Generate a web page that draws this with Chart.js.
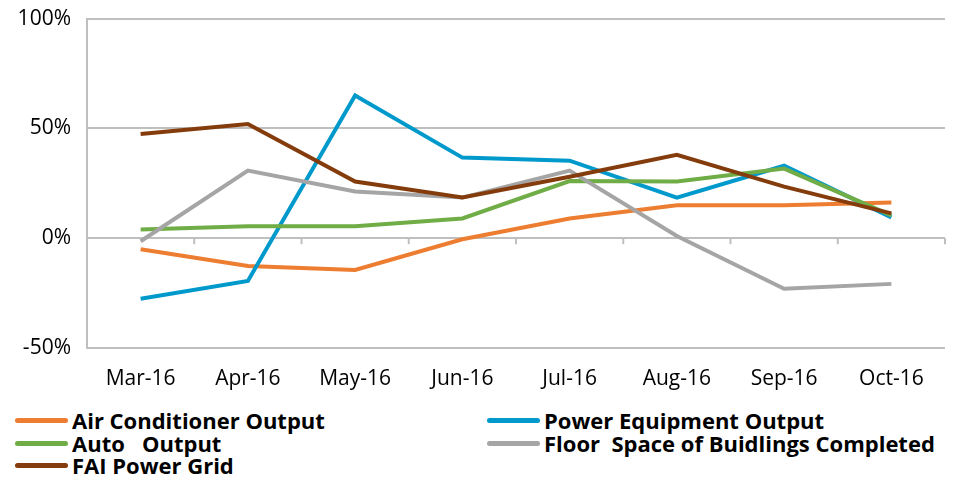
<!DOCTYPE html>
<html>
<head>
<meta charset="utf-8">
<script src="https://cdn.jsdelivr.net/npm/chart.js@4/dist/chart.umd.min.js"></script>
<style>
  html, body { margin: 0; padding: 0; background: #fff; overflow: hidden; }
  #wrap { position: relative; width: 955px; height: 481px; overflow: hidden; }
  #c { position: absolute; left: 0; top: -10px; }
  #legend { position: absolute; left: 0; top: 409px; width: 955px; font-family: "Open Sans", sans-serif; font-weight: bold; font-size: 22px; color: #000; }
  .item { position: absolute; height: 22px; line-height: 22px; white-space: pre; }
  .item span.sw { position: absolute; left: 0; top: 9px; width: 53px; height: 5px; border-radius: 3px; }
  .item span.tx { position: absolute; left: 57px; top: 0; }
</style>
</head>
<body>
<div id="wrap">
  <canvas id="c" width="955" height="410"></canvas>
  <div id="legend"></div>
</div>
<script>
var months = ["Mar-16", "Apr-16", "May-16", "Jun-16", "Jul-16", "Aug-16", "Sep-16", "Oct-16"];
var airConditioner = [-5, -12.7, -14.5, -0.5, 9, 15, 15, 16.3];
var powerEquipment = [-27.6, -19.5, 65, 36.7, 35.3, 18.5, 33, 9.5];
var autoOutput = [4, 5.4, 5.4, 9, 26, 25.8, 31.7, 10.4];
var floorSpace = [-1.4, 30.8, 21.3, 18.5, 30.8, 1, -23, -20.8];
var faiPowerGrid = [47.5, 52, 25.8, 18.5, 28, 38, 23.5, 11.3];
var yTicks = [-50, 0, 50, 100];

var series = [
  { label: "Air Conditioner Output", data: airConditioner, color: "#ED7D31", col: 0, row: 0 },
  { label: "Power Equipment Output", data: powerEquipment, color: "#0099CC", col: 1, row: 0 },
  { label: "Auto   Output", data: autoOutput, color: "#70AD47", col: 0, row: 1 },
  { label: "Floor  Space of Buidlings Completed", data: floorSpace, color: "#A5A5A5", col: 1, row: 1 },
  { label: "FAI Power Grid", data: faiPowerGrid, color: "#843C0C", col: 0, row: 2 }
];

// small tick marks on the 0% line between categories
var zeroTicks = {
  id: "zeroTicks",
  afterDatasetsDraw: function (chart) {
    var ctx = chart.ctx, x = chart.scales.x, y = chart.scales.y;
    var y0 = y.getPixelForValue(0);
    ctx.save();
    ctx.strokeStyle = "#BFBFBF";
    ctx.lineWidth = 2;
    var n = months.length;
    for (var i = 0; i < n; i++) {
      var bx = i < n - 1 ? (x.getPixelForValue(i) + x.getPixelForValue(i + 1)) / 2 : chart.chartArea.right;
      ctx.beginPath();
      ctx.moveTo(bx, y0);
      ctx.lineTo(bx, y0 + 6);
      ctx.stroke();
    }
    ctx.restore();
  }
};

var ctx = document.getElementById("c");
var chart = new Chart(ctx, {
  type: "line",
  data: {
    labels: months,
    datasets: series.map(function (s, i) {
      return {
        label: s.label,
        data: s.data,
        borderColor: s.color,
        backgroundColor: s.color,
        borderWidth: 4,
        pointRadius: 0,
        tension: 0,
        fill: false,
        order: series.length - i
      };
    })
  },
  options: {
    responsive: false,
    animation: false,
    layout: { padding: { top: 0, right: 10, left: 0, bottom: 0 } },
    plugins: { legend: { display: false }, tooltip: { enabled: false } },
    scales: {
      x: {
        offset: true,
        grid: { display: false, drawTicks: false },
        border: { display: false },
        ticks: { padding: 18, color: "#000", font: { family: "Open Sans", size: 21 } },
        afterFit: function (s) { s.height = 52; }
      },
      y: {
        min: -50,
        max: 100,
        afterBuildTicks: function (s) { s.ticks = yTicks.map(function (v) { return { value: v }; }); },
        grid: { color: "#BFBFBF", lineWidth: 2, drawTicks: false },
        border: { display: true, color: "#BFBFBF", width: 2 },
        ticks: {
          padding: 16,
          color: "#000",
          font: { family: "Open Sans", size: 21 },
          callback: function (v) { return v + "%"; }
        },
        afterFit: function (s) { s.width = 87; }
      }
    }
  },
  plugins: [zeroTicks]
});

// two-column legend built from the series list
var leg = document.getElementById("legend");
series.forEach(function (s) {
  var d = document.createElement("div");
  d.className = "item";
  d.style.left = (s.col === 0 ? 15 : 487) + "px";
  d.style.top = (s.row * 22.5) + "px";
  d.innerHTML = '<span class="sw" style="background:' + s.color + '"></span><span class="tx"></span>';
  d.querySelector(".tx").textContent = s.label;
  leg.appendChild(d);
});
</script>
</body>
</html>
